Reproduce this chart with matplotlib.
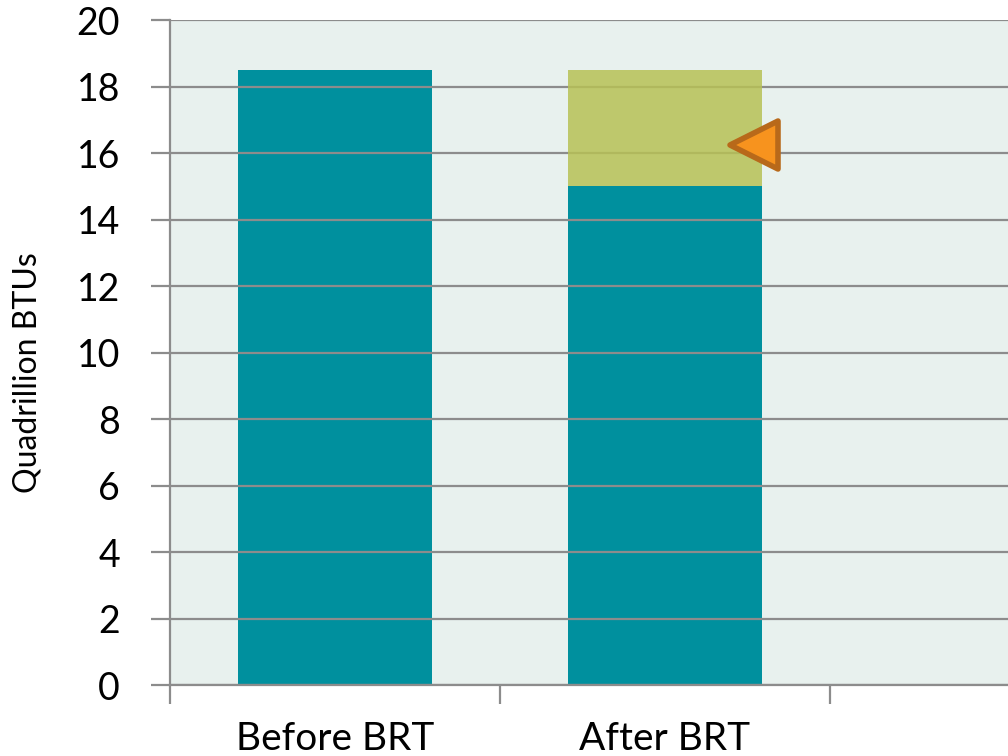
import matplotlib.pyplot as plt
from matplotlib.markers import MarkerStyle
from matplotlib.ticker import FixedLocator

categories = ["Before BRT", "After BRT", ""]
base_values = [18.5, 15.0]
saved_values = [0.0, 3.5]
marker_x = 1.27
marker_y = 16.25

plt.rcParams['font.family'] = ['Lato', 'DejaVu Sans']

fig = plt.figure(figsize=(10.08, 7.56), dpi=100)
ax = fig.add_axes([0.1687, 0.0939, 0.982, 0.8796])
ax.set_facecolor('#E8F1EE')

x = range(len(base_values))
ax.bar(x, base_values, width=0.59, color='#00909E', zorder=2)
ax.bar(x, saved_values, width=0.59, bottom=base_values, color='#B7C155',
       alpha=0.85, zorder=4)
ax.plot([marker_x], [marker_y], marker=MarkerStyle('<', joinstyle='round'),
        markersize=34, color='#F7931E', markeredgecolor='#B8691A',
        markeredgewidth=4, zorder=5)

ax.set_xlim(-0.5, 2.5)
ax.set_ylim(0, 20)
ax.set_yticks(range(0, 21, 2))
ax.yaxis.grid(True, color='#8C8C8C', linewidth=1.6, zorder=3)
ax.set_axisbelow(False)
for line in ax.get_ygridlines():
    line.set_zorder(3)

ax.set_xticks(range(len(categories)))
ax.set_xticklabels(categories)
ax.xaxis.set_minor_locator(FixedLocator([-0.5, 0.5, 1.5]))
ax.tick_params(axis='x', which='major', length=0, labelsize=28, pad=26)
ax.tick_params(axis='x', which='minor', length=14, width=1.6, color='#8C8C8C')
ax.tick_params(axis='y', length=14, width=1.6, color='#8C8C8C', labelsize=27, pad=22)

for side in ['top', 'right']:
    ax.spines[side].set_visible(False)
for side in ['left', 'bottom']:
    ax.spines[side].set_color('#8C8C8C')
    ax.spines[side].set_linewidth(1.6)

ax.set_ylabel("Quadrillion BTUs", fontsize=23)
ax.yaxis.set_label_coords(-0.129, 0.47)

fig.savefig('out.png', dpi=100)
